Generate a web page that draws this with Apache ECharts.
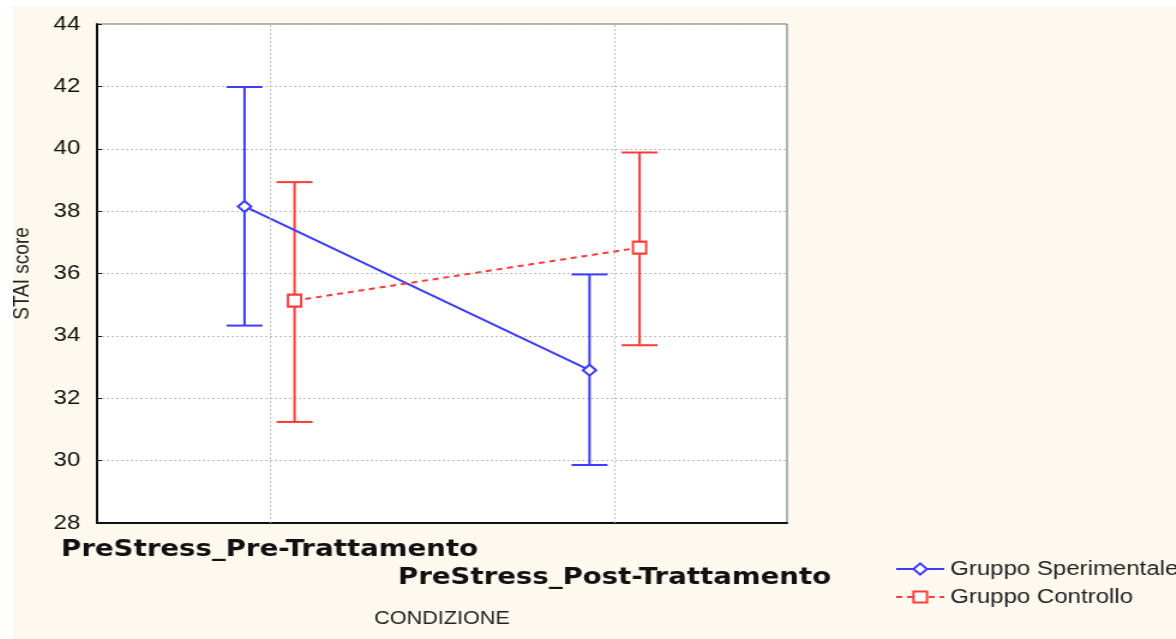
<!DOCTYPE html>
<html>
<head>
<meta charset="utf-8">
<script src="https://cdn.jsdelivr.net/npm/echarts@6/dist/echarts.min.js"></script>
<style>
  html, body { margin: 0; padding: 0; background: #ffffff; overflow: hidden; }
  #frame { position: absolute; left: 13px; top: 6px; width: 1163px; height: 633px; background: #fdf9ef; overflow: hidden; }
  /* the plot is laid out narrow and widened horizontally, like the original wide-aspect export */
  #chart { position: absolute; left: 0; top: 0; width: 969px; height: 633px; transform-origin: 0 0; transform: scaleX(1.2); }
</style>
</head>
<body>
<div id="frame"><div id="chart"></div></div>
<script>
// Conditions on the x axis
const categories = ['PreStress_Pre-Trattamento', 'PreStress_Post-Trattamento'];

// STAI score: means and interval bounds per condition
const sperMean = [38.15, 32.90];
const sperLow  = [34.33, 29.86];
const sperHigh = [41.98, 35.97];

const ctrlMean = [35.13, 36.83];
const ctrlLow  = [31.24, 33.70];
const ctrlHigh = [38.93, 39.88];

// Y axis ticks
const yTicks = [28, 30, 32, 34, 36, 38, 40, 42, 44];

const groupNames = ['Gruppo Sperimentale', 'Gruppo Controllo'];
const BLUE = '#3c3cff';
const RED = '#ff3a3a';

// each condition sits at 1, 3 on a 0..4 value axis; groups are nudged left/right
const catPos = categories.map((c, i) => 1 + 2 * i);
const nudge = [-0.145, 0.145];

function points(means, g) {
  return means.map((m, i) => [catPos[i] + nudge[g], m]);
}
function bars(low, high, g) {
  return low.map((l, i) => [catPos[i] + nudge[g], l, high[i]]);
}

function errorBarItem(color) {
  return function (params, api) {
    const x = api.value(0);
    const lo = api.coord([x, api.value(1)]);
    const hi = api.coord([x, api.value(2)]);
    const half = 15;
    const style = { stroke: color, lineWidth: 2, fill: null };
    return {
      type: 'group',
      children: [
        { type: 'line', shape: { x1: lo[0], y1: lo[1], x2: hi[0], y2: hi[1] }, style },
        { type: 'line', shape: { x1: lo[0] - half, y1: lo[1], x2: lo[0] + half, y2: lo[1] }, style },
        { type: 'line', shape: { x1: hi[0] - half, y1: hi[1], x2: hi[0] + half, y2: hi[1] }, style }
      ]
    };
  };
}

const chart = echarts.init(document.getElementById('chart'), null, { renderer: 'canvas' });

const gridDash = { color: '#bdbdbd', width: 1, type: [2, 2] };

chart.setOption({
  animation: false,
  grid: {
    left: 70, right: 324, top: 18, bottom: 116,
    outerBoundsMode: 'none',
    containLabel: false,
    show: true, backgroundColor: '#ffffff', borderColor: '#666666', borderWidth: 1
  },
  xAxis: [
    {
      type: 'value', min: 0, max: 4, show: false, position: 'top'
    },
    {
      type: 'category', data: categories, boundaryGap: true, position: 'bottom',
      axisLine: { lineStyle: { color: '#111111', width: 2 } },
      axisTick: { show: false },
      splitLine: { show: false },
      axisLabel: {
        margin: 16,
        interval: 0,
        formatter: (v, i) => (i === 0 ? '{a|' + v + '}' : '{b|' + v + '}'),
        rich: {
          a: { fontFamily: 'DejaVu Sans', fontWeight: 'bold', fontSize: 23, color: '#111111' },
          b: { fontFamily: 'DejaVu Sans', fontWeight: 'bold', fontSize: 23, color: '#111111', padding: [28, 0, 0, 0] }
        }
      },
      name: 'CONDIZIONE',
      nameLocation: 'middle',
      nameGap: 87,
      nameTextStyle: { fontFamily: 'Liberation Sans', fontSize: 18, color: '#222222' }
    }
  ],
  yAxis: {
    type: 'value', min: yTicks[0], max: yTicks[yTicks.length - 1], interval: yTicks[1] - yTicks[0],
    axisLine: { show: true, lineStyle: { color: '#111111', width: 2 } },
    axisTick: { show: true, inside: true, length: 4, lineStyle: { color: '#111111' } },
    axisLabel: { margin: 14, fontFamily: 'Liberation Sans', fontSize: 20, color: '#111111' },
    splitLine: { show: true, lineStyle: gridDash },
    name: 'STAI score',
    nameLocation: 'middle',
    nameGap: 53,
    nameTextStyle: { fontFamily: 'Liberation Sans', fontSize: 19, color: '#222222' }
  },
  legend: {
    orient: 'vertical',
    left: 730, top: 548,
    itemWidth: 40, itemHeight: 14, itemGap: 8,
    textStyle: { fontFamily: 'Liberation Sans', fontSize: 20, color: '#222222' },
    data: groupNames
  },
  series: [
    {
      name: 'gridlines',
      type: 'custom',
      xAxisIndex: 0,
      data: [],
      renderItem: () => null,
      silent: true,
      markLine: {
        silent: true, symbol: 'none', label: { show: false },
        lineStyle: gridDash,
        data: catPos.map(p => ({ xAxis: p }))
      },
      z: 1
    },
    {
      name: groupNames[0] + ' bars', type: 'custom', xAxisIndex: 0,
      renderItem: errorBarItem(BLUE), data: bars(sperLow, sperHigh, 0), z: 2
    },
    {
      name: groupNames[1] + ' bars', type: 'custom', xAxisIndex: 0,
      renderItem: errorBarItem(RED), data: bars(ctrlLow, ctrlHigh, 1), z: 2
    },
    {
      name: groupNames[0], type: 'line', xAxisIndex: 0,
      data: points(sperMean, 0),
      symbol: 'diamond', symbolSize: [11, 11],
      lineStyle: { color: BLUE, width: 2 },
      itemStyle: { color: '#ffffff', borderColor: BLUE, borderWidth: 2 },
      z: 3
    },
    {
      name: groupNames[1], type: 'line', xAxisIndex: 0,
      data: points(ctrlMean, 1),
      symbol: 'rect', symbolSize: [11, 12],
      lineStyle: { color: RED, width: 2, type: [5, 4] },
      itemStyle: { color: '#ffffff', borderColor: RED, borderWidth: 2 },
      z: 3
    }
  ]
});
</script>
</body>
</html>
